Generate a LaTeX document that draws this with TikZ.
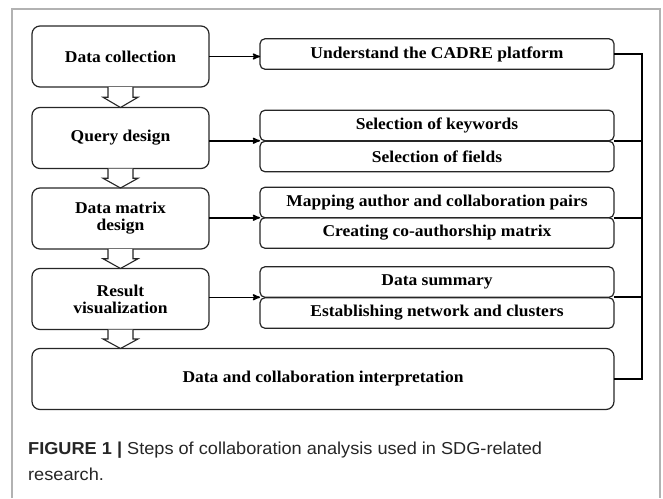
\documentclass[tikz,border=0pt]{standalone}
\usepackage{fontspec}
\setmainfont{Liberation Serif}[FakeStretch=1.06]
\newfontfamily\capfont{Liberation Sans}
\usetikzlibrary{arrows,calc}

% open block arrow between two stacked steps
\newcommand\hollowdown[2]{%
	\draw[hollow] let \p1=(#1.south), \p2=(#2.north), \p3=($(#1.south)!0.5!(#2.north)$) in
		(\x1-12.5pt,\y1) -- (\x1-12.5pt,\y3) -- (\x1-17.5pt,\y3) -- (\x1,\y2)
		-- (\x1+17.5pt,\y3) -- (\x1+12.5pt,\y3) -- (\x1+12.5pt,\y1);}
\newcommand\capline[1]{\scalebox{1.05}[1]{#1}}

\begin{document}
\begin{tikzpicture}
	[x=1pt, y=-1pt, >=stealth',
	boxfont/.style={font=\bfseries\fontsize{16.5}{17}\selectfont},
	stepbox/.style={draw=black!85, line width=1.2pt, rounded corners=8pt, boxfont,
		minimum width=177pt, minimum height=61pt, align=center, inner sep=2pt, outer sep=0pt},
	taskbox/.style={draw=black!85, line width=1.2pt, rounded corners=5pt, boxfont,
		minimum width=354pt, minimum height=30.5pt, align=center, inner sep=2pt, outer sep=0pt},
	hollow/.style={draw=black!85, line width=1.1pt, fill=white},
	link/.style={->, line width=1.5pt},
	bus/.style={line width=1.8pt}]
	\useasboundingbox (0,0) rectangle (663,498);
	\draw[black!30, line width=1.6pt] (12,498) -- (12,9) -- (660,9) -- (660,498);
	% main steps
	\node[stepbox] (dc) at (120.5,56.5) {Data collection};
	\node[stepbox] (qd) at (120.5,138) {Query design};
	\node[stepbox] (dm) at (120.5,218.5) {Data matrix\\design};
	\node[stepbox] (rv) at (120.5,299) {Result\\visualization};
	\node[stepbox, minimum width=582pt] (it) at (323,379) {Data and collaboration interpretation};
	% tasks
	\node[taskbox] (un) at (437,54) {Understand the CADRE platform};
	\node[taskbox] (kw) at (437,125.5) {Selection of keywords};
	\node[taskbox] (fd) at (437,156.5) {Selection of fields};
	\node[taskbox] (mp) at (437,202.5) {Mapping author and collaboration pairs};
	\node[taskbox] (cm) at (437,233) {Creating co-authorship matrix};
	\node[taskbox] (ds) at (437,282) {Data summary};
	\node[taskbox] (en) at (437,313) {Establishing network and clusters};
	\coordinate (bus) at (642,54);
	\hollowdown{dc}{qd}
	\hollowdown{qd}{dm}
	\hollowdown{dm}{rv}
	\hollowdown{rv}{it}
	\draw[link] (dc.east) -- (dc.east -| un.west);
	\draw[link] (qd.east |- kw.south) -- (kw.south west);
	\draw[link] (dm.east |- mp.south) -- (mp.south west);
	\draw[link] (rv.east |- ds.south) -- (ds.south west);
	\draw[bus] (un.east) -- (bus) -- (bus |- it.east) -- (it.east);
	\draw[bus] (kw.south east) -- (kw.south east -| bus);
	\draw[bus] (mp.south east) -- (mp.south east -| bus);
	\draw[bus] (ds.south east) -- (ds.south east -| bus);
	% caption
	\node[anchor=west, inner sep=0pt, text=black!85,
		font=\capfont\fontsize{17.3}{26}\selectfont, align=left] (cap) at (28,461)
		{\capline{{\bfseries FIGURE 1 |} Steps of collaboration analysis used in SDG-related}\\\capline{research.}};
\end{tikzpicture}
\end{document}
